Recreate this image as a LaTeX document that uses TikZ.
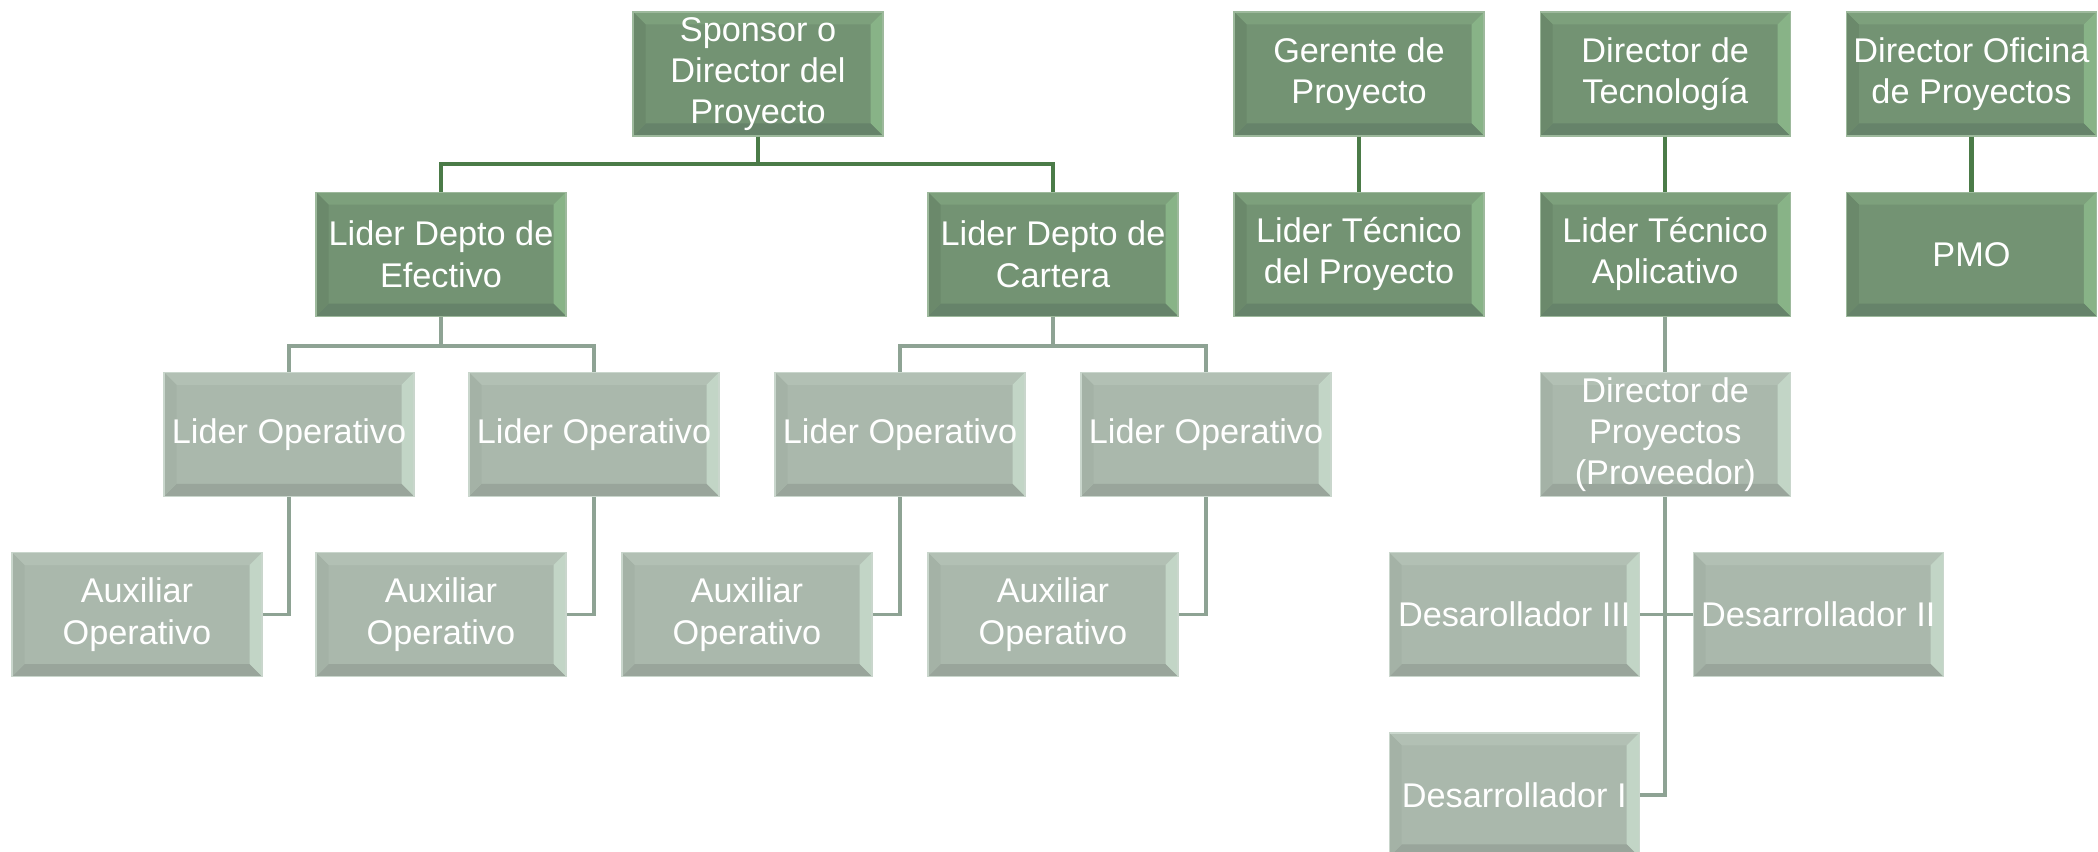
\documentclass[tikz,border=0pt]{standalone}
\usepackage{fontspec}
\setmainfont{Liberation Sans}
\usepackage{xcolor}
\usepackage{tikz}
\usetikzlibrary{positioning}

% colores
\definecolor{verdeOsc}{HTML}{739373}
\definecolor{verdeSup}{HTML}{7DA07C}
\definecolor{verdeDer}{HTML}{88B387}
\definecolor{verdeInf}{HTML}{66836A}
\definecolor{verdeIzq}{HTML}{6B896B}
\definecolor{verdeBorde}{HTML}{9DB99C}
\definecolor{grisVerde}{HTML}{AAB8AC}
\definecolor{grisSup}{HTML}{B2C0B4}
\definecolor{grisDer}{HTML}{C2D5C6}
\definecolor{grisInf}{HTML}{99A59B}
\definecolor{grisIzq}{HTML}{A4B2A6}
\definecolor{grisBorde}{HTML}{C9D6CC}
\definecolor{lineaOsc}{HTML}{4B7B48}
\definecolor{lineaGris}{HTML}{8EA394}

\newcommand{\bisel}{0.25cm}
% top, right, bottom, left
\newcommand{\biselado}[4]{%
  \fill[#1] (path picture bounding box.north west) -- (path picture bounding box.north east)
    -- ([shift={(-\bisel,-\bisel)}]path picture bounding box.north east)
    -- ([shift={(\bisel,-\bisel)}]path picture bounding box.north west) -- cycle;
  \fill[#2] (path picture bounding box.north east) -- (path picture bounding box.south east)
    -- ([shift={(-\bisel,\bisel)}]path picture bounding box.south east)
    -- ([shift={(-\bisel,-\bisel)}]path picture bounding box.north east) -- cycle;
  \fill[#3] (path picture bounding box.south east) -- (path picture bounding box.south west)
    -- ([shift={(\bisel,\bisel)}]path picture bounding box.south west)
    -- ([shift={(-\bisel,\bisel)}]path picture bounding box.south east) -- cycle;
  \fill[#4] (path picture bounding box.south west) -- (path picture bounding box.north west)
    -- ([shift={(\bisel,-\bisel)}]path picture bounding box.north west)
    -- ([shift={(\bisel,\bisel)}]path picture bounding box.south west) -- cycle;
}

\begin{document}
\begin{tikzpicture}[
    node distance=1.1cm,
    caja/.style={rectangle, minimum width=5cm, minimum height=2.48cm, inner sep=0pt, align=center, text=white, line width=0.7pt, font=\fontsize{19.5}{23.5}\selectfont},
    jefe/.style={caja, fill=verdeOsc, draw=verdeBorde, path picture={\biselado{verdeSup}{verdeDer}{verdeInf}{verdeIzq}}},
    equipo/.style={caja, fill=grisVerde, draw=grisBorde, path picture={\biselado{grisSup}{grisDer}{grisInf}{grisIzq}}},
    linjefe/.style={draw=lineaOsc, line width=2.4pt},
    linequipo/.style={draw=lineaGris, line width=2pt}
]
\useasboundingbox (0,0) rectangle (41.96,-17.04);

% Top row
\node[jefe] (sponsor) at (15.16,-1.48) {Sponsor o \\ Director del \\ Proyecto};
\node[jefe] (gerente) at (27.18,-1.48) {Gerente de \\ Proyecto};
\node[jefe, right=of gerente] (dirtec) {Director de \\ Tecnología};
\node[jefe, right=of dirtec] (dirofi) {Director Oficina \\ de Proyectos};

% Second row
\node[jefe, below=of sponsor, xshift=-6.34cm] (efectivo) {Lider Depto de \\ Efectivo};
\node[jefe, below=of sponsor, xshift=5.9cm] (cartera) {Lider Depto de \\ Cartera};
\node[jefe, below=of gerente] (ltp) {Lider Técnico \\ del Proyecto};
\node[jefe, below=of dirtec] (lta) {Lider Técnico \\ Aplicativo};
\node[jefe, below=of dirofi] (pmo) {PMO};

% Lideres operativos
\node[equipo, below=of efectivo, xshift=-3.04cm] (lo1) {Lider Operativo};
\node[equipo, below=of efectivo, xshift=3.06cm] (lo2) {Lider Operativo};
\node[equipo, below=of cartera, xshift=-3.06cm] (lo3) {Lider Operativo};
\node[equipo, below=of cartera, xshift=3.06cm] (lo4) {Lider Operativo};
\node[equipo, below=of lta] (dirprov) {Director de \\ Proyectos \\ (Proveedor)};

% Auxiliares y desarrolladores
\node[equipo, below=of lo1, xshift=-3.04cm] (aux1) {Auxiliar \\ Operativo};
\node[equipo, below=of lo2, xshift=-3.06cm] (aux2) {Auxiliar \\ Operativo};
\node[equipo, below=of lo3, xshift=-3.06cm] (aux3) {Auxiliar \\ Operativo};
\node[equipo, below=of lo4, xshift=-3.06cm] (aux4) {Auxiliar \\ Operativo};
\node[equipo, below=of dirprov, xshift=-3.02cm] (des3) {Desarollador III};
\node[equipo, below=of dirprov, xshift=3.06cm] (des2) {Desarrollador II};
\node[equipo, below=of des3] (des1) {Desarrollador I};

% Edges
\draw[linjefe] (sponsor.south) -- ++(0,-0.55) -| (efectivo.north);
\draw[linjefe] (sponsor.south) -- ++(0,-0.55) -| (cartera.north);
\draw[linjefe] (gerente) -- (ltp);
\draw[linjefe] (dirtec) -- (lta);
\draw[linjefe] (dirofi) -- (pmo);

\draw[linequipo] (efectivo.south) -- ++(0,-0.58) -| (lo1.north);
\draw[linequipo] (efectivo.south) -- ++(0,-0.58) -| (lo2.north);
\draw[linequipo] (cartera.south) -- ++(0,-0.58) -| (lo3.north);
\draw[linequipo] (cartera.south) -- ++(0,-0.58) -| (lo4.north);
\draw[linequipo] (lo1.south) |- (aux1.east);
\draw[linequipo] (lo2.south) |- (aux2.east);
\draw[linequipo] (lo3.south) |- (aux3.east);
\draw[linequipo] (lo4.south) |- (aux4.east);
\draw[linequipo] (lta) -- (dirprov);
\draw[linequipo] (dirprov.south) |- (des1.east);
\draw[linequipo] (des3.east) -- (des2.west);

\end{tikzpicture}
\end{document}
